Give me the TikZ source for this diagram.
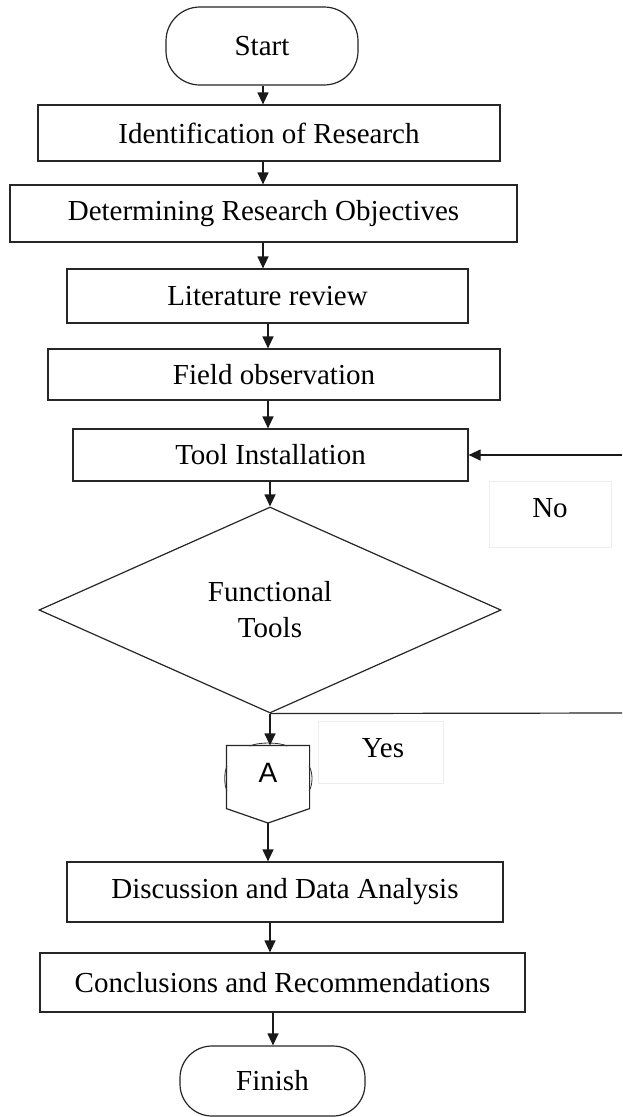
\documentclass[tikz,border=0pt]{standalone}
\usepackage{fontspec}
\setmainfont{Liberation Serif}
\setsansfont{Liberation Sans}
\usetikzlibrary{arrows.meta,shapes.geometric}
\begin{document}
\begin{tikzpicture}[x=1pt,y=-1pt,
  line width=1.2pt,
  every node/.style={font=\fontsize{29pt}{36pt}\selectfont, inner sep=0pt},
  proc/.style={draw=black!85, rectangle},
  term/.style={draw=black!85, rectangle, rounded corners=34pt},
  decision/.style={draw=black!85, diamond, align=center},
  arr/.style={draw=black!90, -{Triangle[length=12pt,width=11pt]}},
  lbl/.style={draw=black!7, line width=0.8pt},
  thin arc/.style={draw=black!80, line width=0.8pt}
]
\useasboundingbox[fill=white] (0,0) rectangle (622,1117);

% main sequence of steps
\node[term, minimum width=192pt, minimum height=78pt] (start) at (262,46) {Start};
\node[proc, minimum width=462pt, minimum height=56pt] (b1) at (269,133) {Identification of Research};
\node[proc, minimum width=507pt, minimum height=57pt] (b2) at (263.5,213.5) {Determining Research Objectives};
\node[proc, minimum width=401pt, minimum height=54pt] (b3) at (267.5,296) {Literature review};
\node[proc, minimum width=452pt, minimum height=51pt] (b4) at (274,374.5) {Field observation};
\node[proc, minimum width=395pt, minimum height=52pt] (b5) at (270.5,455) {Tool Installation};
\node[decision, minimum width=462pt, minimum height=206pt] (dia) at (270,610) {Functional\\Tools};

% off-page connector A
\node[minimum width=82pt, minimum height=62pt] (A) at (268,777) {};
\coordinate (Atip) at (268,823);
\draw[draw=black!85] (A.north west) -- (A.north east) -- (A.south east) -- (Atip) -- (A.south west) -- cycle;
\draw[thin arc] (250,746) .. controls (258,742) and (279,742) .. (287,746);
\draw[thin arc] (227,766) .. controls (224,772) and (224,785) .. (227,791);
\draw[thin arc] (309,766) .. controls (313,772) and (313,785) .. (309,791);
\node[font=\sffamily\fontsize{28pt}{34pt}\selectfont] (Atext) at (268,773) {A};

\node[proc, minimum width=436pt, minimum height=60pt] (b6) at (285,892) {Discussion and Data Analysis};
\node[proc, minimum width=485pt, minimum height=59pt] (b7) at (282.5,982.5) {Conclusions and Recommendations};
\node[term, minimum width=185pt, minimum height=70pt, rounded corners=32pt] (finish) at (272.5,1081) {Finish};

% columns used by the vertical connectors
\coordinate (colA) at (263,0);
\coordinate (colB) at (268,0);
\coordinate (colC) at (270,0);
\coordinate (colD) at (273,0);

\draw[arr] (start.south -| colA) -- (b1.north -| colA);
\draw[arr] (b1.south -| colA) -- (b2.north -| colA);
\draw[arr] (b2.south -| colA) -- (b3.north -| colA);
\draw[arr] (b3.south -| colB) -- (b4.north -| colB);
\draw[arr] (b4.south -| colB) -- (b5.north -| colB);
\draw[arr] (b5.south -| colC) -- (dia.north);
\draw[arr] (dia.south) -- (A.north -| dia.south);
\draw[arr] (Atip) -- (b6.north -| Atip);
\draw[arr] (b6.south -| colC) -- (b7.north -| colC);
\draw[arr] (b7.south -| colD) -- (finish.north -| colD);

% loop back from the decision
\coordinate (edgeNo) at (622,455);
\coordinate (edgeYes) at (622,713);
\draw[arr] (edgeNo) -- (b5.east);
\draw[draw=black!85] (dia.south) -- (edgeYes);

% branch labels
\node[lbl, minimum width=122pt, minimum height=66pt] (nobox) at (550,514) {};
\node (no) at (550,508) {No};
\node[lbl, minimum width=125pt, minimum height=62pt] (yesbox) at (380.5,752) {};
\node (yes) at (383,748) {Yes};
\end{tikzpicture}
\end{document}
